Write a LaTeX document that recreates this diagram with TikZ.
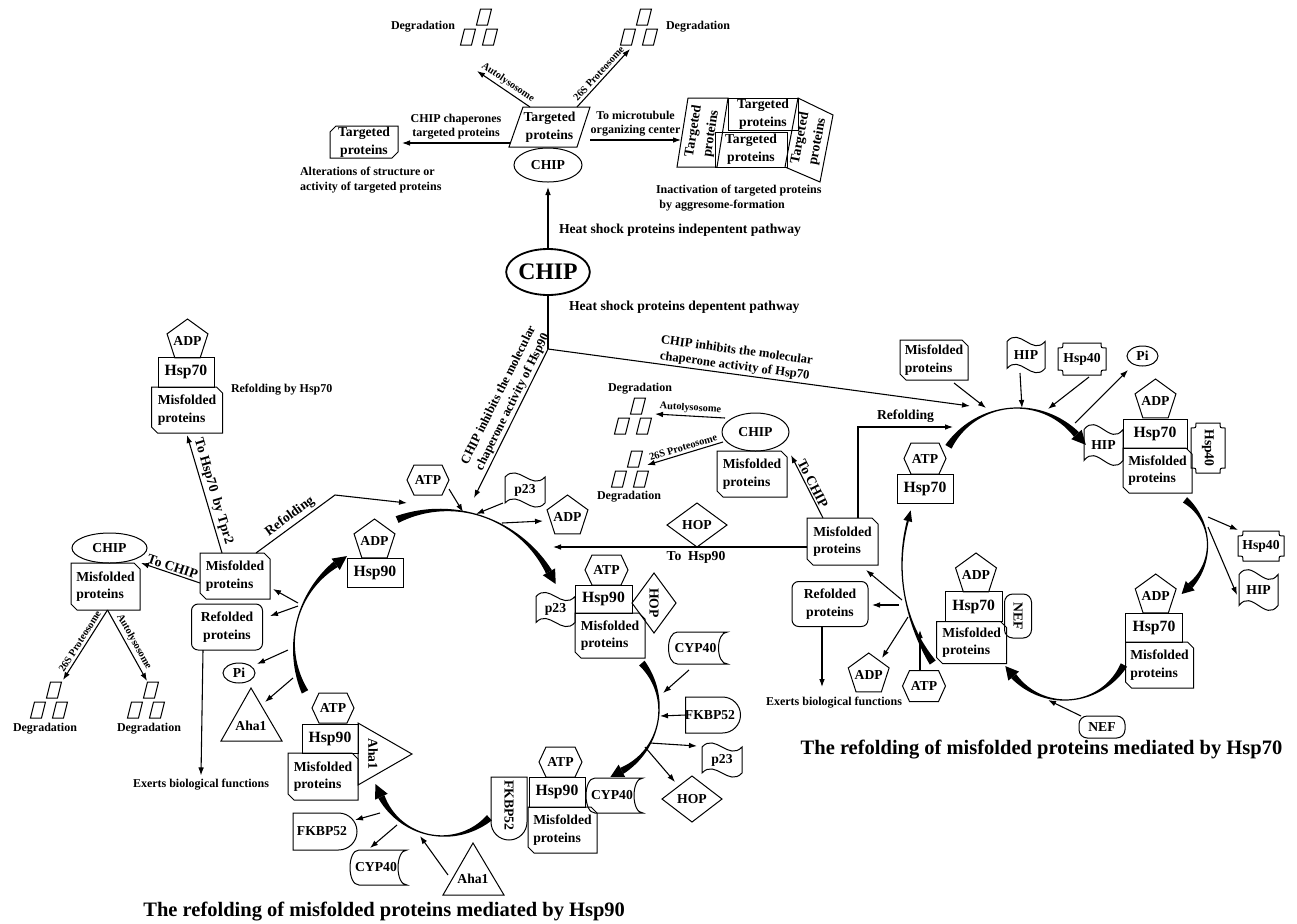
\documentclass[tikz,border=0pt]{standalone}
\usepackage{fontspec}
\setmainfont{Liberation Serif}
\usetikzlibrary{calc,arrows.meta,shapes.geometric}
\newlength\pxu
\setlength\pxu{0.6pt}
\newcommand\myM{\fontsize{8.2}{10.6}\selectfont\bfseries}
\newcommand\myB{\fontsize{9.4}{11}\selectfont\bfseries}
\newcommand\myS{\fontsize{7.2}{8.6}\selectfont\bfseries}
\newcommand\myT{\fontsize{6.2}{7}\selectfont\bfseries}
\newcommand\myL{\fontsize{7.6}{9.4}\selectfont\bfseries}
\newcommand\myTi{\fontsize{12.3}{14}\selectfont\bfseries}
\newcommand\myC{\fontsize{14.2}{16}\selectfont\bfseries}
\tikzset{
  shp/.style={draw=black, line width=0.6pt},
  lab/.style={inner sep=0pt, outer sep=0pt, align=center, font=\myM},
  arr/.style={draw=black, line width=0.65pt, -{Latex[length=4.8pt,width=3.4pt]}},
  ln/.style={draw=black, line width=0.65pt},
  tlab/.style={font=\myT, inner sep=1.5pt, sloped},
  slab/.style={lab, font=\myS},
}
\newcommand\mkBx[6]{\node[lab, shp, minimum width=#4\pxu, minimum height=#5\pxu] (#1) at (#2,#3) {#6};}
\newcommand\mkMis[6]{%
  \node[lab, align=left, minimum width=#4\pxu, minimum height=#5\pxu] (#1) at (#2,#3) {#6};
  \draw[shp] (#1.north west) -- ([xshift=-6\pxu]#1.north east) -- ([yshift=-6\pxu]#1.north east) -- (#1.south east) -- ([xshift=6\pxu]#1.south west) -- ([yshift=6\pxu]#1.south west) -- cycle;}
\newcommand\mkHex[5]{%
  \node[lab, minimum width=#4\pxu, minimum height=#5\pxu] (#1) at (#2,#3) {ATP};
  \draw[shp] (#1.west) -- ([xshift=7\pxu]#1.north west) -- ([xshift=-7\pxu]#1.north east) -- (#1.east) -- ([xshift=-7\pxu]#1.south east) -- ([xshift=7\pxu]#1.south west) -- cycle;}
\newcommand\mkPent[4]{%
  \node[lab] (#1) at (#2,#3) {ADP};
  \draw[shp] (#2,#3) +(0,-#4) -- +({0.951*#4},{-0.309*#4}) -- +({0.588*#4},{0.809*#4}) -- +({-0.588*#4},{0.809*#4}) -- +({-0.951*#4},{-0.309*#4}) -- cycle;}
\newcommand\mkFlag[6]{%
  \node[lab, minimum width=#4\pxu, minimum height=#5\pxu] (#1) at (#2,#3) {#6};
  \draw[shp] (#1.north west) .. controls +({#4/3},{-#5*0.55}) and +({-#4/3},{#5*0.55}) .. (#1.north east) -- (#1.south east) .. controls +({-#4/3},{#5*0.55}) and +({#4/3},{-#5*0.55}) .. (#1.south west) -- cycle;}
\newcommand\mkDia[7]{%
  \node[lab, minimum width=#4\pxu, minimum height=#5\pxu] (#1) at (#2,#3) {};
  \draw[shp] (#1.north) -- (#1.east) -- (#1.south) -- (#1.west) -- cycle;
  \node[lab, rotate=#7] (#1t) at (#1.center) {#6};}
\newcommand\mkCyp[5]{%
  \node[lab, minimum width=#4\pxu, minimum height=#5\pxu] (#1) at (#2,#3) {};
  \node[lab] (#1t) at ([xshift=-2.5\pxu]#1.center) {CYP40};
  \draw[shp] ([xshift=9\pxu]#1.north west) -- (#1.north east) .. controls +(-12,0) and +(-12,0) .. (#1.south east) -- ([xshift=9\pxu]#1.south west) .. controls +(-12,0) and +(-12,0) .. ([xshift=9\pxu]#1.north west) -- cycle;}
\newcommand\mkDsh[6]{%
  \node[lab, minimum width=#4\pxu, minimum height=#5\pxu] (#1) at (#2,#3) {};
  \node[lab] (#1t) at ([xshift=-3\pxu]#1.center) {#6};
  \draw[shp] (#1.north west) -- ([xshift={-#5*0.3pt}]#1.north east) arc[start angle=90, end angle=-90, radius={#5*0.3pt}] -- (#1.south west) -- cycle;}
\newcommand\mkHfo[7]{%
  \node[lab, minimum width=#4\pxu, minimum height=#5\pxu] (#1) at (#2,#3) {};
  \node[lab, rotate=#7] (#1t) at (#1.center) {#6};
  \draw[shp] ([xshift=5\pxu]#1.north west) -- ([xshift=-5\pxu]#1.north east) .. controls ([shift={(-5,5)}]#1.north east) .. ([yshift=-5\pxu]#1.north east) -- ([yshift=5\pxu]#1.south east) .. controls ([shift={(-5,-5)}]#1.south east) .. ([xshift=-5\pxu]#1.south east) -- ([xshift=5\pxu]#1.south west) .. controls ([shift={(5,-5)}]#1.south west) .. ([yshift=5\pxu]#1.south west) -- ([yshift=-5\pxu]#1.north west) .. controls ([shift={(5,5)}]#1.north west) .. ([xshift=5\pxu]#1.north west) -- cycle;}
\newcommand\mkEll[6]{\node[lab, shp, ellipse, minimum width=#4\pxu, minimum height=#5\pxu] (#1) at (#2,#3) {#6};}
\newcommand\mkDeg[3]{%
  \coordinate (#1) at (#2,#3);
  \foreach \ddx/\ddy in {5/-10,-11/10,11/10}{%
    \draw[shp] ($(#1)+(\ddx,\ddy)+(-7.5,8)$) -- ++(4,-16) -- ++(11,0) -- ++(-4,16) -- cycle;}}
\newcommand\thw[5]{(0.6+(#4)*max(0,1-2*(#1-(#2))/((#3)-(#2)))*max(0,1-2*(#1-(#2))/((#3)-(#2)))+(#5)*max(0,2*(#1-(#2))/((#3)-(#2))-1)*max(0,2*(#1-(#2))/((#3)-(#2))-1))}
\newcommand\mkCyc[9]{%
  \fill[black] plot[domain=#4:#5, samples=40, variable=\uu] ({#1+(#3+\thw{\uu}{#4}{#5}{#8}{#9})*cos(\uu)},{#2+(#3+\thw{\uu}{#4}{#5}{#8}{#9})*sin(\uu)})
    -- plot[domain=#5:#4, samples=40, variable=\uu] ({#1+(#3-\thw{\uu}{#4}{#5}{#8}{#9})*cos(\uu)},{#2+(#3-\thw{\uu}{#4}{#5}{#8}{#9})*sin(\uu)}) -- cycle;
  \fill[black] ({#1+(#3+#7)*cos(#5)},{#2+(#3+#7)*sin(#5)}) -- ({#1+(#3-#7)*cos(#5)},{#2+(#3-#7)*sin(#5)}) -- ({#1+#3*cos(#5)-#6*sin(#5)},{#2+#3*sin(#5)+#6*cos(#5)}) -- cycle;}

\begin{document}
\begin{tikzpicture}[x=0.6pt,y=-0.6pt]
\useasboundingbox (0,0) rectangle (1297,923);
\fill[white] (0,0) rectangle (1297,923);

% ================= top: heat shock proteins independent pathway
\mkDeg{dgTL}{479}{27}
\node[slab] (tDegTL) at (423,27) {Degradation};
\mkDeg{dgTR}{639}{27}
\node[slab] (tDegTR) at (698,27) {Degradation};
\node[lab, minimum width=81\pxu, minimum height=40\pxu] (tp) at (549.5,127) {Targeted\\proteins};
\draw[shp] ([xshift=14\pxu]tp.north west) -- (tp.north east) -- ([xshift=-13\pxu]tp.south east) -- (tp.south west) -- cycle;
\mkEll{chipA}{548}{165}{68}{34}{CHIP}
\coordinate (aTL) at (477,71);
\coordinate (aTR) at (630,49);
\draw[arr] ([xshift=21\pxu]tp.north west) -- node[tlab, above] {Autolysosome} (aTL);
\draw[arr] ([xshift=-13\pxu]tp.north east) -- node[tlab, above] {26S Proteosome} (aTR);

\node[lab, minimum width=68\pxu, minimum height=32\pxu] (tpL) at (364,142) {Targeted\\proteins};
\draw[shp] ([xshift=6\pxu]tpL.north west) -- (tpL.north east) -- ([yshift=6\pxu]tpL.south east) -- ([xshift=-6\pxu]tpL.south east) -- (tpL.south west) -- ([yshift=-6\pxu]tpL.north west) -- cycle;
\coordinate (tpW) at (510,143);
\coordinate (tpLe) at (402,143);
\draw[arr] (tpW) -- node[slab, above=4\pxu] {CHIP chaperones\\targeted proteins} (tpLe);
\node[slab, align=left, anchor=west] (tAlter) at (300,180) {Alterations of structure or\\activity of targeted proteins};

\coordinate (tpE) at (590,140);
\coordinate (agW) at (681,140);
\draw[arr] (tpE) -- node[slab, above=4\pxu] {To microtubule\\organizing center} (agW);

\draw[shp] (688,98) -- (728,98) -- (717,167) -- (677,167) -- cycle;
\node[lab, rotate=81] (ag1) at (702.5,132.5) {Targeted\\proteins};
\node[lab, shp, minimum width=70\pxu, minimum height=32\pxu] (ag2) at (763,114) {Targeted\\proteins};
\node[lab, shp, minimum width=72\pxu, minimum height=35\pxu] (ag3) at (751,149.5) {Targeted\\proteins};
\draw[shp] (798,98) -- (833,115) -- (820,182) -- (785,167) -- cycle;
\node[lab, rotate=79] (ag4) at (809,140) {Targeted\\proteins};
\node[slab, align=left, anchor=west] (tInact) at (656,198) {Inactivation of targeted proteins\\\hspace*{2pt}by aggresome-formation};

\node[lab, anchor=west] (tIndep) at (559,230) {Heat shock proteins indepentent pathway};
\node[lab, shp, ellipse, line width=1.1pt, font=\myC, minimum width=76\pxu, minimum height=46\pxu] (chipB) at (548,272) {CHIP};
\node[lab, anchor=west] (tDep) at (569,307) {Heat shock proteins depentent pathway};
\draw[arr] (chipB.north) -- ([yshift=-5\pxu]chipA.south);
\coordinate (J) at (548,349);
\draw[ln] (chipB.south) -- (J);
\coordinate (j90) at (474,498);
\coordinate (j70) at (970,406);
\draw[arr] (J) -- node[lab, font=\myL, pos=0.38, sloped, above=2\pxu] {CHIP inhibits the molecular\\chaperone activity of Hsp90} (j90);
\draw[arr] (J) -- node[lab, font=\myL, pos=0.44, sloped, above=2\pxu] {CHIP inhibits the molecular\\chaperone activity of Hsp70} (j70);

% ================= left side
\mkPent{adpTL}{187.5}{340.5}{21.5}
\mkBx{h70TL}{186}{372}{56}{30}{\myB Hsp70}
\mkMis{mpTL}{187}{410}{71}{46}{Misfolded\\proteins}
\node[slab, anchor=west] (tRefH) at (231,390) {Refolding by Hsp70};
\mkEll{chipL}{109.5}{548}{75}{30}{CHIP}
\mkMis{mpL2}{105.5}{586.5}{69}{47}{Misfolded\\proteins}
\mkMis{mpL}{235}{576}{70}{46}{Misfolded\\proteins}
\node[lab, shp, rounded corners=4pt, minimum width=71\pxu, minimum height=46\pxu] (rfL) at (227,627) {Refolded\\proteins};
\draw[arr] ([xshift=-13\pxu]mpL.north) -- node[lab, sloped, above=3\pxu] {To Hsp70~ by Tpr2} ([yshift=-2\pxu]mpTL.south);
\coordinate (rfK) at (335,495);
\coordinate (a90L) at (407,503);
\draw[arr] ([xshift=21\pxu]mpL.north) -- node[lab, sloped, above=3\pxu] {Refolding} (rfK) -- (a90L);
\draw[arr] ([yshift=-7\pxu]mpL.west) -- node[lab, sloped, above=2\pxu] {To CHIP} ([xshift=1\pxu]mpL2.north east);
\coordinate (dBLa) at (63,680);
\coordinate (dBRa) at (147,681);
\draw[arr] ([xshift=2\pxu]mpL2.south) -- node[tlab, above] {26S Proteosome} (dBLa);
\draw[arr] ([xshift=2\pxu]mpL2.south) -- node[tlab, above] {Autolysosome} (dBRa);
\mkDeg{dgBL}{49}{700}
\mkDeg{dgBR}{146}{700}
\node[slab] (tDegBL) at (45,729) {Degradation};
\node[slab] (tDegBR) at (149,729) {Degradation};
\mkEll{piL}{239}{673}{32}{20}{Pi}
\draw[shp] (251,688) -- (282,741) -- (221,741) -- cycle;
\node[lab] (ahaL) at (251,726) {Aha1};
\node[slab] (tExL) at (201,785) {Exerts biological functions};
\draw[arr] ([xshift=-24\pxu]rfL.south) -- ([yshift=4\pxu]tExL.north);
\coordinate (s14) at (298,603); \coordinate (e14) at (273,589);
\coordinate (s15) at (298,606); \coordinate (e15) at (270,616);
\coordinate (s17) at (288,650); \coordinate (e17) at (257,664);
\coordinate (s18) at (293,678); \coordinate (e18) at (265,702);
\draw[arr] (s14) -- (e14);
\draw[arr] (s15) -- (e15);
\draw[arr] (s17) -- (e17);
\draw[arr] (s18) -- (e18);

% ================= Hsp90 cycle
\mkHex{atpT}{428}{480}{42}{30}
\mkFlag{p23T}{525}{490}{40}{26}{p23}
\mkPent{adpT}{567.5}{516.5}{21.5}
\mkPent{adpA}{374.5}{540.5}{21.5}
\mkBx{h90A}{375}{572.5}{56}{29}{\myB Hsp90}
\coordinate (s19) at (449,489); \coordinate (e19) at (463,512);
\coordinate (s20) at (503,503); \coordinate (e20) at (476,514);
\coordinate (s21) at (502,523); \coordinate (e21) at (543,521);
\draw[arr] (s19) -- (e19);
\draw[arr] (s20) -- (e20);
\draw[arr] (s21) -- (e21);

\mkHex{atpR}{606.5}{570}{43}{30}
\mkBx{h90B}{603.5}{599}{57}{28}{\myB Hsp90}
\mkMis{mpR90}{610}{635.5}{70}{45}{Misfolded\\proteins}
\mkFlag{p23R}{555.5}{609.5}{39}{26}{p23}
\mkDia{hopR}{654}{603}{44}{60}{HOP}{-90}

\mkDia{hopT}{697}{525}{60}{44}{HOP}{0}
\mkMis{mpR}{842.5}{541.5}{71}{47}{Misfolded\\proteins}
\coordinate (a90R) at (553,547);
\draw[arr] ([yshift=-5.5\pxu]mpR.west) -- node[lab, pos=0.437, below=4\pxu] {To~ Hsp90} (a90R);
\mkEll{chipM}{755.5}{432}{67}{38}{CHIP}
\mkMis{mpM}{752}{474}{70}{46}{Misfolded\\proteins}
\coordinate (eCM) at (791,455);
\draw[arr] ([xshift=-19.5\pxu]mpR.north) -- node[lab, sloped, above=2\pxu] {To CHIP} (eCM);
\coordinate (s24) at (725,418); \coordinate (e24) at (655,414);
\coordinate (s25) at (723,442); \coordinate (e25) at (647,465);
\draw[arr] (s24) -- node[tlab, above] {Autolysosome} (e24);
\draw[arr] (s25) -- node[tlab, above] {26S Proteosome} (e25);
\mkDeg{dgMU}{633}{416}
\node[slab] (tDegMU) at (640,389) {Degradation};
\mkDeg{dgML}{630}{469}
\node[slab] (tDegML) at (629,497) {Degradation};
\coordinate (rfK2) at (858,427);
\coordinate (a70L) at (953,427);
\draw[arr] ([xshift=15.5\pxu]mpR.north) -- (rfK2) -- node[lab, above=4\pxu] {Refolding} (a70L);

\mkCyp{cypR1}{698}{648}{59}{32}
\mkDsh{fkR}{713}{715}{55}{36}{FKBP52}
\mkFlag{p23R2}{722}{760}{40}{26}{p23}
\mkDia{hopR2}{692}{799}{60}{46}{HOP}{0}
\coordinate (s39) at (689,670); \coordinate (e39) at (663,693);
\coordinate (e40) at (660,716);
\coordinate (s41) at (650,743); \coordinate (e41) at (697,746);
\coordinate (s42) at (645,747); \coordinate (e42) at (675,782);
\draw[arr] (s39) -- (e39);
\draw[arr] (fkR.west) -- (e40);
\draw[arr] (s41) -- (e41);
\draw[arr] (s42) -- (e42);

\mkHex{atpB}{560.5}{762}{43}{30}
\mkBx{h90C}{557}{792}{56}{30}{\myB Hsp90}
\mkMis{mpB}{562.5}{830}{69}{46}{Misfolded\\proteins}
\mkCyp{cypB1}{614.5}{795.5}{57}{35}
\node[lab, minimum width=36\pxu, minimum height=63\pxu] (fkB) at (509,808.5) {};
\draw[shp] (fkB.north west) -- (fkB.north east) -- ([yshift=10.8pt]fkB.south east) arc[start angle=0, end angle=-180, radius=10.8pt] -- cycle;
\node[lab, rotate=-90] (fkBt) at ([yshift=2pt]fkB.center) {FKBP52};

\mkDsh{fkL}{325}{831.5}{64}{37}{FKBP52}
\mkCyp{cypL}{378.5}{867.5}{57}{35}
\draw[shp] (473,843) -- (504,895) -- (443,895) -- cycle;
\node[lab] (ahaB) at (473,879) {Aha1};
\coordinate (s43) at (380,813); \coordinate (e43) at (355,820);
\coordinate (s44) at (397,825); \coordinate (e44) at (370,848);
\coordinate (s45) at (448,875); \coordinate (e45) at (420,836);
\draw[arr] (s43) -- (e43);
\draw[arr] (s44) -- (e44);
\draw[arr] (s45) -- (e45);

\mkHex{atpL}{333}{708}{42}{30}
\mkBx{h90D}{330}{738.5}{56}{29}{\myB Hsp90}
\mkMis{mpLL}{323}{776.5}{70}{47}{Misfolded\\proteins}
\draw[shp] (358,723) -- (412,754) -- (358,785) -- cycle;
\node[lab, rotate=-90] (ahaR) at (373,754) {Aha1};

\mkCyc{444}{630}{120}{-113}{-29}{14}{7}{3}{2.8}
\mkCyc{589}{709}{70}{-41}{62}{13}{7}{3}{2.8}
\mkCyc{443}{768}{68}{47}{155}{14}{7}{3}{2.8}
\mkCyc{395}{646}{101}{153}{234}{14}{7}{3}{2.8}

\node[lab, font=\myTi, anchor=east] (title90) at (625,912) {The refolding of misfolded proteins mediated by Hsp90};

% ================= Hsp70 cycle
\mkMis{mpT70}{934}{360}{68}{40}{Misfolded\\proteins}
\mkFlag{hipT}{1026}{355}{38}{27}{HIP}
\mkHfo{h40T}{1082}{359}{48}{32}{Hsp40}{0}
\mkEll{piT}{1142.5}{356}{31}{20}{Pi}
\mkPent{adpR1}{1155.5}{400.5}{21.5}
\mkBx{h70R1}{1155}{433.5}{64}{29}{\myB Hsp70}
\mkMis{mpR70}{1157.5}{470.5}{69}{45}{Misfolded\\proteins}
\mkFlag{hipR}{1103.5}{445}{39}{31}{HIP}
\mkHfo{h40R}{1208}{448}{34}{50}{Hsp40}{-90}
\mkHex{atp70L}{925}{458.5}{42}{31}
\mkBx{h70L2}{925}{488.5}{56}{29}{\myB Hsp70}
\coordinate (s27) at (954,383); \coordinate (e27) at (986,408);
\coordinate (s28) at (1020,373); \coordinate (e28) at (1022,408);
\coordinate (s29) at (1089,377); \coordinate (e29) at (1048,409);
\coordinate (s30) at (1075,423); \coordinate (e30) at (1128,370);
\draw[arr] (s27) -- (e27);
\draw[arr] (s28) -- (e28);
\draw[arr] (s29) -- (e29);
\draw[arr] (s30) -- (e30);

\mkHfo{h40R2}{1261}{546}{46}{30}{Hsp40}{0}
\mkFlag{hipR2}{1258.5}{590}{39}{31}{HIP}
\coordinate (s31) at (1208,517); \coordinate (e31) at (1238,530);
\coordinate (s32) at (1208,527); \coordinate (e32) at (1237,595);
\draw[arr] (s31) -- (e31);
\draw[arr] (s32) -- (e32);
\mkPent{adpR2}{1155.7}{595.5}{21.5}
\mkBx{h70R2}{1154}{627.5}{57}{29}{\myB Hsp70}
\mkMis{mpR70b}{1159.5}{665}{68}{46}{Misfolded\\proteins}

\mkPent{adp70c}{976}{574.5}{21.5}
\mkBx{h70c}{973.7}{606.7}{57}{30}{\myB Hsp70}
\mkMis{mp70c}{971.7}{642.7}{70}{42}{Misfolded\\proteins}
\node[lab, shp, rounded corners=5pt, minimum width=27\pxu, minimum height=44\pxu] (nefR) at (1018,616) {};
\node[lab, rotate=-90] (nefRt) at (nefR.center) {NEF};
\node[lab, shp, rounded corners=5pt, minimum width=46\pxu, minimum height=22\pxu] (nefB) at (1102,727) {NEF};
\coordinate (e38) at (1048,700);
\draw[arr] ([xshift=2\pxu]nefB.north west) -- (e38);

\node[lab, shp, rounded corners=4pt, minimum width=76\pxu, minimum height=45\pxu] (rf70) at (830,604) {Refolded\\proteins};
\mkPent{adpLB}{868.7}{674.5}{21.5}
\mkHex{atpLB}{924}{686}{43}{31}
\node[slab] (tExR) at (834,703) {Exerts biological functions};
\coordinate (e37) at (822,687);
\draw[arr] ([xshift=-8\pxu]rf70.south) -- (e37);
\coordinate (s33) at (902,600); \coordinate (e33) at (866,570);
\coordinate (s34) at (899,605); \coordinate (e34) at (872,605);
\coordinate (s35) at (908,617); \coordinate (e35) at (882,658);
\coordinate (e36) at (920,630);
\draw[arr] (s33) -- (e33);
\draw[arr] (s34) -- (e34);
\draw[arr] (s35) -- (e35);
\draw[arr] ([xshift=-4\pxu]atpLB.north) -- (e36);

\mkCyc{1017}{488}{80}{-149}{-42}{14}{7}{3}{2.8}
\mkCyc{1151}{545}{56.5}{-53}{46}{12}{6.5}{2.8}{2.5}
\mkCyc{1065}{633}{67}{28.5}{140}{13}{7}{3}{2.6}
\mkCyc{1072}{565}{170}{145}{195}{11}{4.5}{3}{0.4}

\node[lab, font=\myTi] (title70) at (1041.5,750) {The refolding of misfolded proteins mediated by Hsp70};
\end{tikzpicture}
\end{document}
